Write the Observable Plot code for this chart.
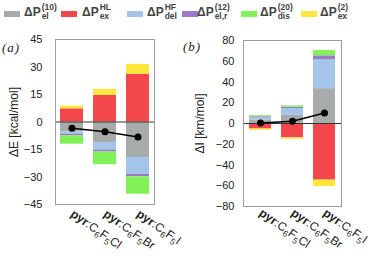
<!DOCTYPE html>
<html>
<head>
<meta charset="utf-8">
<script src="https://cdn.jsdelivr.net/npm/d3@7"></script>
<script src="https://cdn.jsdelivr.net/npm/@observablehq/plot@0.6"></script>
<style>
  body { margin: 0; background: white; }
  #root { position: relative; width: 371px; height: 256px; font-family: "Liberation Sans", Arial, sans-serif; color: #333; }
  .panel { position: absolute; top: 28px; height: 228px; }
  .lg-sw { position: absolute; top: 11px; width: 16px; height: 6px; }
  .lg-lab { position: absolute; top: 3px; font-size: 12px; font-weight: bold; color: #444; white-space: nowrap; display: flex; align-items: center; }
  .ss { display: inline-flex; flex-direction: column; font-size: 8.5px; line-height: 8.5px; margin-left: 1px; }
  .plab { position: absolute; font-family: "Liberation Serif", serif; font-style: italic; font-size: 13px; letter-spacing: 1px; color: #222; }
</style>
</head>
<body>
<div id="root"></div>
<script>
// ---- data ----
const categories = ["Cl", "Br", "I"];
const seriesKeys = ["el10", "exHL", "delHF", "elr12", "dis20", "ex2"];
const seriesColors = ["#a7acab", "#f4474c", "#a3c5ea", "#9b7bc7", "#80f258", "#ffe63d"];
const legendBase = ["ΔP", "ΔP", "ΔP", "ΔP", "ΔP", "ΔP"];
const legendSup = ["(10)", "HL", "HF", "(12)", "(20)", "(2)"];
const legendSub = ["el", "ex", "del", "el,r", "dis", "ex"];

// panel (a): ΔE [kcal/mol]
const aEl10 = [-5.4, -11.3, -19.4];
const aExHL = [7.2, 14.5, 26.0];
const aDelHF = [-1.3, -4.0, -9.1];
const aElr12 = [-0.9, -1.1, -1.4];
const aDis20 = [-4.5, -6.9, -9.5];
const aEx2 = [1.5, 3.3, 5.4];
const aTotal = [-3.4, -5.3, -8.2];
const aTicks = [-45, -30, -15, 0, 15, 30, 45];

// panel (b): ΔI [km/mol]
const bEl10 = [3.5, 7.8, 33.6];
const bExHL = [-5.3, -13.8, -54.6];
const bDelHF = [2.0, 6.6, 28.0];
const bElr12 = [1.0, 1.2, 3.6];
const bDis20 = [1.0, 1.4, 5.1];
const bEx2 = [-1.3, -1.4, -6.2];
const bTotal = [0.5, 2.1, 10.2];
const bTicks = [-80, -60, -40, -20, 0, 20, 40, 60, 80];

const root = document.getElementById("root");

// ---- legend ----
const swLeft = [4, 61, 127, 182, 241, 301];
const labLeft = [24, 82, 147, 197, 260, 320];
seriesKeys.forEach((k, i) => {
  const sw = document.createElement("div");
  sw.className = "lg-sw";
  sw.style.left = swLeft[i] + "px";
  sw.style.background = seriesColors[i];
  root.appendChild(sw);
  const lab = document.createElement("div");
  lab.className = "lg-lab";
  lab.style.left = labLeft[i] + "px";
  lab.innerHTML = `<span>${legendBase[i]}</span><span class="ss"><span>${legendSup[i]}</span><span>${legendSub[i]}</span></span>`;
  root.appendChild(lab);
});

function rowsFor(arrs) {
  const rows = [];
  seriesKeys.forEach((k, si) => {
    categories.forEach((c, ci) => rows.push({cat: c, series: k, value: arrs[si][ci]}));
  });
  return rows;
}

function panel(arrs, totals, ticks, domain, label, m, tickPad, labelOffset) {
  const rows = rowsFor(arrs);
  const tot = categories.map((c, i) => ({cat: c, value: totals[i]}));
  const fs = "Liberation Sans, Arial, sans-serif";
  const chart = Plot.plot({
    width: m.w, height: 228,
    marginTop: m.t, marginBottom: m.b, marginLeft: m.l, marginRight: m.r,
    style: {fontFamily: fs, fontSize: "11px", color: "#222", background: "transparent", overflow: "visible"},
    x: {domain: categories, paddingInner: 0.3, paddingOuter: 0.15, axis: null},
    y: {domain: domain, axis: null},
    color: {domain: seriesKeys, range: seriesColors},
    marks: [
      Plot.barY(rows, Plot.stackY({x: "cat", y: "value", fill: "series"})),
      Plot.ruleY([0], {stroke: "#333", strokeWidth: 1}),
      Plot.line(tot, {x: "cat", y: "value", stroke: "black", strokeWidth: 1.5}),
      Plot.dot(tot, {x: "cat", y: "value", fill: "black", r: 3.5}),
      Plot.frame({stroke: "#9c9c9c", strokeWidth: 1}),
      Plot.axisY({ticks: ticks, tickSize: 0, tickPadding: tickPad, fontSize: 11, label: label, labelAnchor: "center", labelArrow: "none", labelOffset: labelOffset}),
      Plot.axisX({tickSize: 0, tickPadding: m.xp, tickRotate: 35, fontSize: 12, label: null})
    ]
  });
  // rich tick labels
  chart.querySelectorAll('g[aria-label="x-axis tick label"] text').forEach(t => {
    const cat = t.textContent;
    t.textContent = "";
    const parts = [["pyr", "bold", 0], [":C", "", 0], ["6", "sub", 3], ["F", "", -3], ["5", "sub", 3], [cat, "", -3]];
    parts.forEach(([s, kind, dy]) => {
      const ts = document.createElementNS("http://www.w3.org/2000/svg", "tspan");
      ts.textContent = s;
      if (kind === "bold") ts.setAttribute("font-weight", "bold");
      if (kind === "sub") ts.setAttribute("font-size", "8.5");
      if (dy) ts.setAttribute("dy", dy);
      t.appendChild(ts);
    });
  });
  chart.querySelectorAll('g[aria-label="y-axis label"] text').forEach(t => { t.setAttribute("font-size", "12"); });
  return chart;
}

const pa = document.createElement("div");
pa.className = "panel"; pa.style.left = "0px"; pa.style.width = "185px";
pa.appendChild(panel([aEl10, aExHL, aDelHF, aElr12, aDis20, aEx2], aTotal, aTicks, [-45, 45], "ΔE [kcal/mol]",
  {w: 185, t: 11, b: 52, l: 55, r: 31, xp: 8}, 13, 46));
root.appendChild(pa);

const pb = document.createElement("div");
pb.className = "panel"; pb.style.left = "185px"; pb.style.width = "186px";
pb.appendChild(panel([bEl10, bExHL, bDelHF, bElr12, bDis20, bEx2], bTotal, bTicks, [-80, 80], "ΔI [km/mol]",
  {w: 186, t: 12, b: 50, l: 58, r: 30, xp: 5}, 9, 48));
root.appendChild(pb);

const la = document.createElement("div");
la.className = "plab"; la.style.left = "2px"; la.style.top = "40px"; la.textContent = "(a)";
root.appendChild(la);
const lb = document.createElement("div");
lb.className = "plab"; lb.style.left = "183px"; lb.style.top = "39px"; lb.textContent = "(b)";
root.appendChild(lb);
</script>
</body>
</html>
